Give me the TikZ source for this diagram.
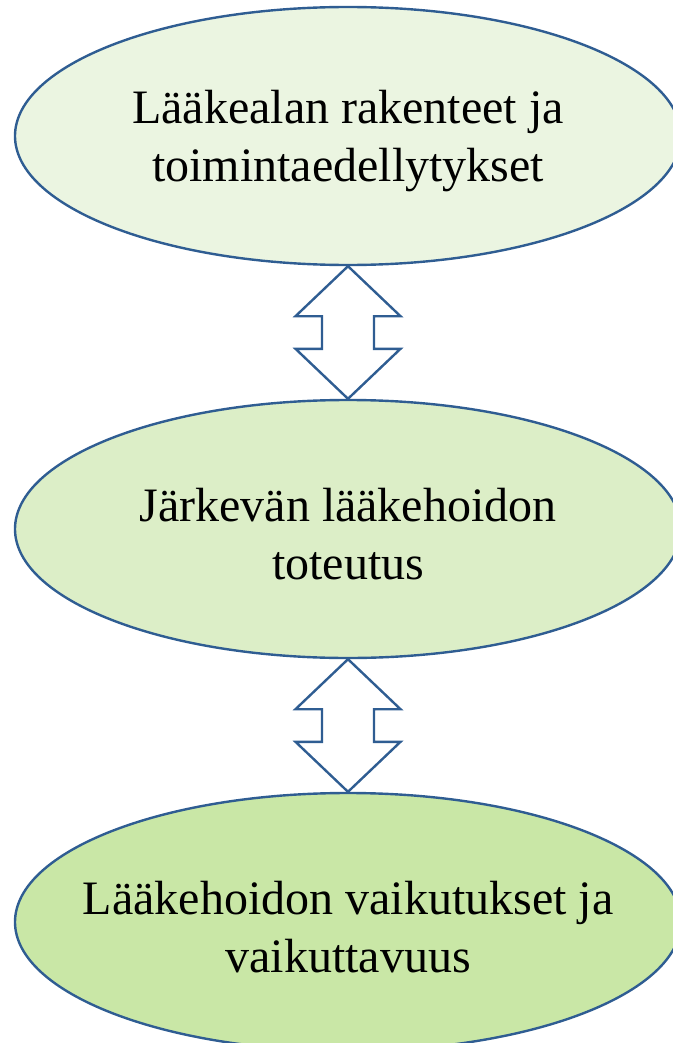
\documentclass[tikz,border=0pt]{standalone}
\usepackage{fontspec}
\setmainfont{Liberation Serif}
\usepackage{tikz}
\usetikzlibrary{calc,shapes.geometric}

\definecolor{edgeblue}{HTML}{2F5D92}
\definecolor{greenA}{HTML}{EBF5E1}
\definecolor{greenB}{HTML}{DCEEC7}
\definecolor{greenC}{HTML}{C9E7A6}

\tikzset{
  bubble/.style={ellipse, draw=edgeblue, line width=2.4pt, inner sep=0pt,
    minimum width=666pt, minimum height=258pt},
  bubbletext/.style={align=center, inner sep=0pt, yshift=-5pt,
    font=\fontsize{48}{58}\selectfont},
  dblarrow/.style={draw=edgeblue, line width=2.4pt, fill=white, line join=miter}
}

\begin{document}
\begin{tikzpicture}[x=1pt,y=1pt]
        \useasboundingbox (0,0) rectangle (672,-1043);

        \node[bubble, fill=greenA, label={[bubbletext]center:{Lääkealan rakenteet ja\\ toimintaedellytykset}}] (top) at (348,-136) {};
        \node[bubble, fill=greenB, label={[bubbletext]center:{Järkevän lääkehoidon\\toteutus}}] (mid) at (348,-529) {};
        \node[bubble, fill=greenC, label={[bubbletext]center:{Lääkehoidon vaikutukset ja\\vaikuttavuus}}] (bot) at (348,-922) {};

        % two-way arrows between the bubbles
        \foreach \a/\b in {top/mid, mid/bot}
            \draw[dblarrow] (\a.south) -- ++(52.5,-50) -- ++(-26.5,0)
                -- ($(\b.north)+(26,50)$) -- ++(26.5,0) -- (\b.north)
                -- ++(-52.5,50) -- ++(26.5,0)
                -- ($(\a.south)+(-26,-50)$) -- ++(-26.5,0) -- cycle;
    \end{tikzpicture}
\end{document}
